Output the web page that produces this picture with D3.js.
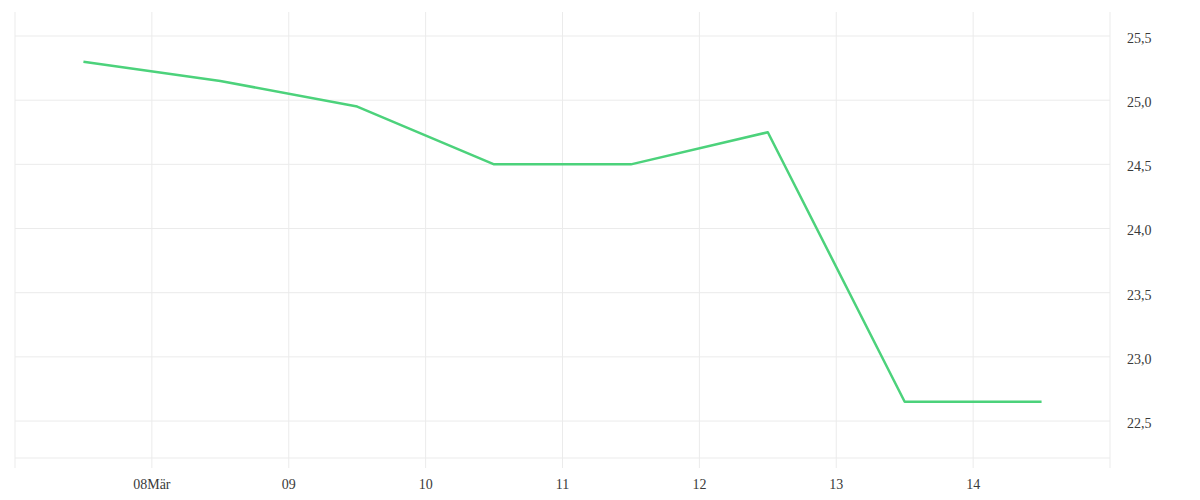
<!DOCTYPE html>
<html>
<head>
<meta charset="utf-8">
<script src="https://cdn.jsdelivr.net/npm/d3@7"></script>
<style>
  body { margin: 0; background: #fff; }
  svg text { font-family: "Liberation Serif", serif; font-size: 14px; fill: #3a3a3a; }
</style>
</head>
<body>
<svg id="chart" width="1200" height="500"></svg>
<script>
// daily values, plotted at midday
var days = ["2024-03-07", "2024-03-08", "2024-03-09", "2024-03-10", "2024-03-11", "2024-03-12", "2024-03-13", "2024-03-14"];
var values = [25.3, 25.15, 24.95, 24.5, 24.5, 24.75, 22.65, 22.65];
var yTicks = [22.5, 23.0, 23.5, 24.0, 24.5, 25.0, 25.5];
var xTickLabels = ["08Mär", "09", "10", "11", "12", "13", "14"];

var parseDay = d3.timeParse("%Y-%m-%d");
var data = [];
for (var i = 0; i < days.length; i++) {
  data.push({ date: d3.timeHour.offset(parseDay(days[i]), 12), value: values[i] });
}

// plot box ("top" is taken by window.top, so prefix these)
var plotLeft = 15, plotRight = 1110, plotTop = 12, plotBottom = 458, tickEnd = 468;

var x = d3.scaleTime()
  .domain([parseDay("2024-03-07"), parseDay("2024-03-15")])
  .range([plotLeft, plotRight]);

var y = d3.scaleLinear()
  .domain([22.212, 25.687])
  .range([plotBottom, plotTop]);

var svg = d3.select("#chart");
var grid = "#ebebeb";

// vertical gridlines (one per day, running past the bottom line)
var xTicks = d3.timeDay.range(parseDay("2024-03-08"), parseDay("2024-03-15"));
svg.append("g").selectAll("line")
  .data(xTicks)
  .enter().append("line")
  .attr("x1", function(d) { return x(d); })
  .attr("x2", function(d) { return x(d); })
  .attr("y1", plotTop)
  .attr("y2", tickEnd)
  .attr("stroke", grid);

// horizontal gridlines
svg.append("g").selectAll("line")
  .data(yTicks)
  .enter().append("line")
  .attr("x1", plotLeft)
  .attr("x2", plotRight)
  .attr("y1", function(d) { return y(d); })
  .attr("y2", function(d) { return y(d); })
  .attr("stroke", grid);

// frame: bottom line + left and right edges
svg.append("line").attr("x1", plotLeft).attr("x2", plotRight)
  .attr("y1", plotBottom).attr("y2", plotBottom).attr("stroke", grid);
svg.append("line").attr("x1", plotLeft).attr("x2", plotLeft)
  .attr("y1", plotTop).attr("y2", tickEnd).attr("stroke", grid);
svg.append("line").attr("x1", plotRight).attr("x2", plotRight)
  .attr("y1", plotTop).attr("y2", tickEnd).attr("stroke", grid);

// x labels
svg.append("g").selectAll("text")
  .data(xTicks)
  .enter().append("text")
  .attr("x", function(d) { return x(d); })
  .attr("y", 489)
  .attr("text-anchor", "middle")
  .text(function(d, i) { return xTickLabels[i]; });

// y labels on the right, German decimal comma
var fmt = d3.format(".1f");
svg.append("g").selectAll("text")
  .data(yTicks)
  .enter().append("text")
  .attr("x", 1127)
  .attr("y", function(d) { return y(d) + 2; })
  .attr("dy", "0.35em")
  .text(function(d) { return fmt(d).replace(".", ","); });

var line = d3.line()
  .x(function(d) { return x(d.date); })
  .y(function(d) { return y(d.value); });

svg.append("path")
  .datum(data)
  .attr("d", line)
  .attr("fill", "none")
  .attr("stroke", "#4cd27b")
  .attr("stroke-width", 2.5)
  .attr("stroke-linejoin", "round");
</script>
</body>
</html>
